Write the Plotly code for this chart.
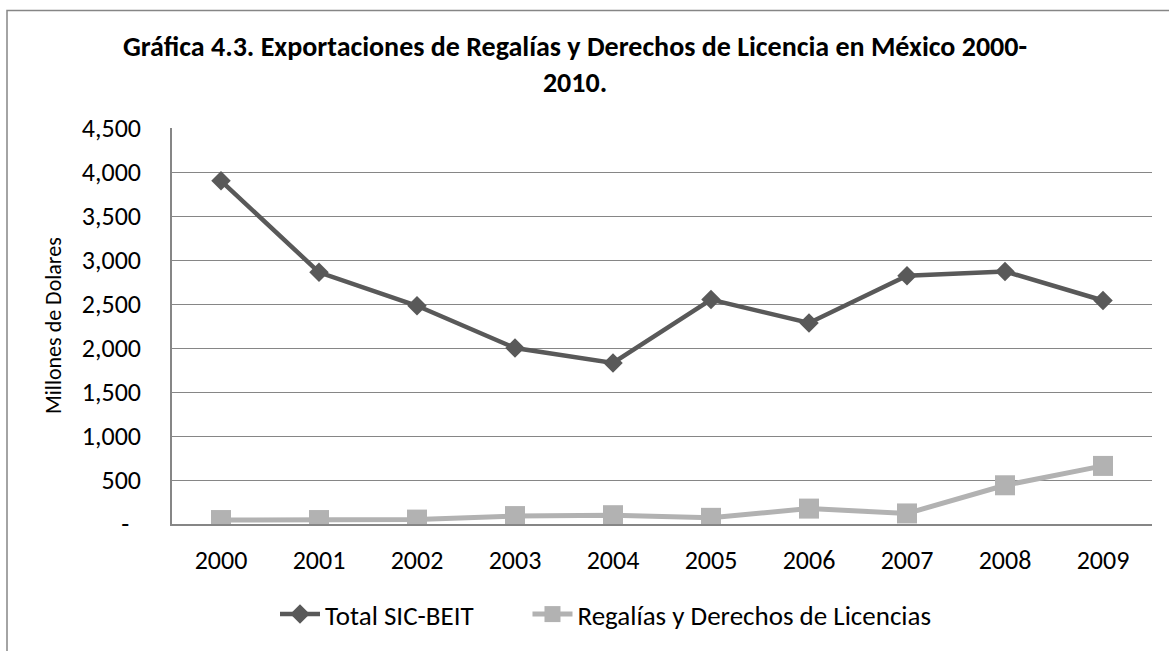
import plotly.graph_objects as go

years = ["2000", "2001", "2002", "2003", "2004", "2005", "2006", "2007", "2008", "2009"]
total_sic_beit = [3900, 2860, 2480, 2000, 1830, 2550, 2285, 2820, 2870, 2540]
regalias = [45, 45, 50, 90, 100, 70, 175, 120, 440, 660]
y_tickvals = [0, 500, 1000, 1500, 2000, 2500, 3000, 3500, 4000, 4500]
y_ticktext = ["-\u00a0\u00a0", "500", "1,000", "1,500", "2,000", "2,500", "3,000", "3,500", "4,000", "4,500"]

W, H = 1169, 651
L, R, T, B = 172, 17, 128, 125
pw, ph = W - L - R, H - T - B

def px(x):
    return (x - L) / pw

def py(y):
    return (H - B - y) / ph

FONT = "Carlito, Calibri, Lato, sans-serif"

fig = go.Figure()
fig.add_trace(go.Scatter(
    x=years, y=total_sic_beit, name="Total SIC-BEIT" + "\u00a0" * 8, mode="lines+markers",
    line=dict(color="#595959", width=4.5),
    marker=dict(symbol="diamond", size=15, color="#595959"),
))
fig.add_trace(go.Scatter(
    x=years, y=regalias, name="Regalías y Derechos de Licencias", mode="lines+markers",
    line=dict(color="#b2b2b2", width=5),
    marker=dict(symbol="square", size=20, color="#b2b2b2"),
))

fig.update_layout(
    width=W, height=H,
    margin=dict(l=L, r=R, t=T, b=B),
    paper_bgcolor="white", plot_bgcolor="white",
    font=dict(family=FONT, color="#000000", size=26),
    title=dict(
        text="<b>Gráfica 4.3. Exportaciones de Regalías y Derechos de Licencia en México 2000-<br>2010.</b>",
        x=px(575), xref="paper", xanchor="center",
        y=1 - 56 / H, yref="container", yanchor="top",
        font=dict(family=FONT, size=28, color="#000000"),
    ),
    xaxis=dict(
        type="category", range=[-0.5, 9.5],
        showgrid=False, showline=True, linecolor="#868686", linewidth=1.5,
        ticks="", tickfont=dict(size=26), ticklabelstandoff=12,
        fixedrange=True,
    ),
    yaxis=dict(
        range=[0, 4500], tickvals=y_tickvals, ticktext=y_ticktext,
        showgrid=True, gridcolor="#868686", gridwidth=1,
        showline=True, linecolor="#868686", linewidth=1.5,
        zeroline=False, ticks="", tickfont=dict(size=26), ticklabelstandoff=24,
        fixedrange=True,
    ),
    legend=dict(
        orientation="h", x=px(275), xanchor="left", y=py(617), yanchor="middle",
        font=dict(size=27), itemwidth=40, traceorder="normal",
    ),
    showlegend=True,
)

fig.add_annotation(
    text="Millones de Dolares", textangle=-90, showarrow=False,
    x=px(53), y=py(327), xref="paper", yref="paper", xanchor="center", yanchor="middle",
    font=dict(family=FONT, size=22, color="#000000"),
)

fig.add_shape(
    type="rect", xref="paper", yref="paper",
    x0=px(7), x1=px(1180), y0=py(670), y1=py(10),
    line=dict(color="#868686", width=1.5), fillcolor="rgba(0,0,0,0)", layer="below",
)

fig.write_html("out.html", config={"displayModeBar": False},
               post_script="document.body.style.margin='0px';")
